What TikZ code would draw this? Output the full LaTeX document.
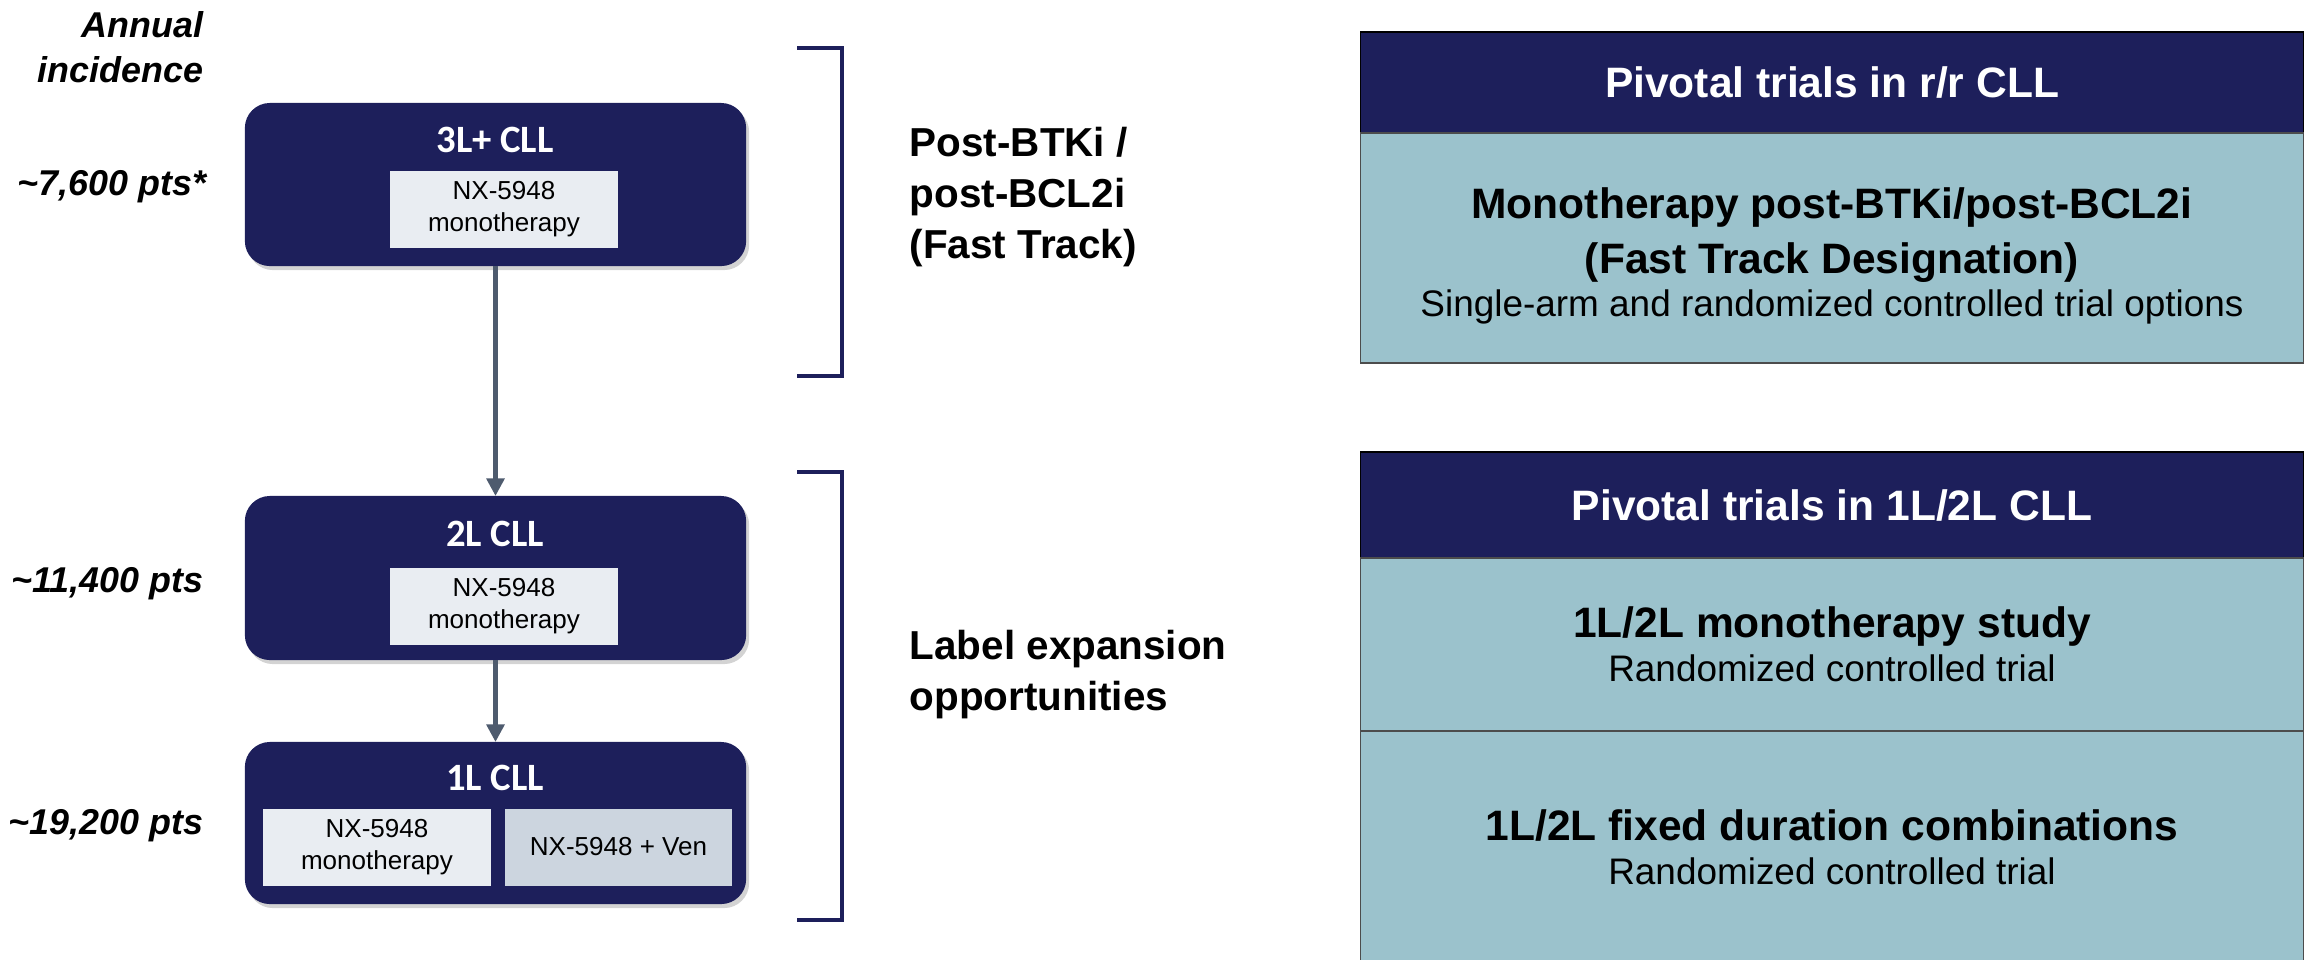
\documentclass[tikz,border=0pt]{standalone}
\usepackage{fontspec}
\setmainfont{Liberation Sans}
\newfontfamily\calibri{Carlito}
\usetikzlibrary{positioning}
\usetikzlibrary{arrows.meta}
\usetikzlibrary{shadows}

\definecolor{navy}{HTML}{1D1F5B}
\definecolor{trialblue}{HTML}{9BC2CC}
\definecolor{armlight}{HTML}{E9EDF2}
\definecolor{armgrey}{HTML}{CCD5DF}
\definecolor{flowgrey}{HTML}{4E5B6E}

\newcommand{\incfont}{\fontsize{10.2}{12.8}\selectfont\bfseries\itshape}
\newcommand{\titlefont}{\fontsize{11}{13}\selectfont\calibri\bfseries}
\newcommand{\armfont}{\fontsize{7.4}{9.1}\selectfont}
\newcommand{\scopefont}{\fontsize{11.5}{14.5}\selectfont\bfseries}
\newcommand{\trialfont}{\fontsize{12.1}{15.6}\selectfont\bfseries}
\newcommand{\subfont}{\fontsize{10.5}{12.8}\selectfont\mdseries}

\begin{document}
\begin{tikzpicture}[x=0.01cm, y=-0.01cm,
    linebox/.style = {fill=navy, rounded corners=0.25cm, minimum width=5.01cm,
      inner sep=0pt, outer sep=0pt,
      drop shadow={shadow xshift=0.03cm, shadow yshift=-0.04cm, opacity=0.35}},
    linetitle/.style = {text=white, font=\titlefont, inner sep=0pt},
    armbox/.style = {minimum width=2.27cm, minimum height=0.77cm, inner sep=0pt,
      align=center, font=\armfont},
    incidence/.style = {font=\incfont, inner sep=0pt},
    flow/.style = {draw=flowgrey, line width=1.2pt,
      -{Triangle[width=5pt, length=5pt]}},
    bracket/.style = {draw=navy, line width=0.9pt},
    scope/.style = {font=\scopefont, align=left, anchor=west, inner sep=0pt},
    header/.style = {fill=navy, draw=black, line width=0.4pt, text=white,
      font=\trialfont, minimum width=9.42cm, inner sep=0pt, outer sep=0pt},
    trial/.style = {fill=trialblue, draw=black!70, line width=0.4pt,
      font=\trialfont, align=center, minimum width=9.42cm, inner sep=0pt,
      outer sep=0pt}
  ]
  \useasboundingbox (0,0) rectangle (2311,959);

  % annual incidence per line of therapy
  \node[incidence, align=right, anchor=east] (annual) at (204,47) {Annual\\incidence};
  \node[incidence, anchor=east] (pts third) at (207,187) {\textasciitilde7,600 pts*};
  \node[incidence, anchor=east] (pts second) at (204,584) {\textasciitilde11,400 pts};
  \node[incidence, anchor=east] (pts first) at (204,826) {\textasciitilde19,200 pts};

  % lines of therapy
  \node[linebox, minimum height=1.63cm] (third) at (495.5,184.5) {};
  \node[linetitle] (third title) at (495,140) {3L+ CLL};
  \node[armbox, fill=armlight] (third mono) at (504,209.5) {NX-5948\\monotherapy};

  \node[linebox, minimum height=1.64cm] (second) at (495.5,578) {};
  \node[linetitle] (second title) at (495,534) {2L CLL};
  \node[armbox, fill=armlight] (second mono) at (504,606) {NX-5948\\monotherapy};

  \node[linebox, minimum height=1.62cm] (first) at (495.5,823) {};
  \node[linetitle] (first title) at (495,778) {1L CLL};
  \node[armbox, fill=armlight] (first mono) at (377,847) {NX-5948\\monotherapy};
  \node[armbox, fill=armgrey] (first combo) at (618.5,847) {NX-5948 + Ven};

  \draw[flow] (third) -- (second);
  \draw[flow] (second) -- (first);

  % brackets
  \draw[bracket] (797,48) -- (842,48) -- (842,376) -- (797,376);
  \draw[bracket] (797,472) -- (842,472) -- (842,920) -- (797,920);
  \node[scope] (fast track) at (909,197) {Post-BTKi /\\post-BCL2i\\(Fast Track)};
  \node[scope] (expansion) at (909,675) {Label expansion\\opportunities};

  % pivotal trials
  \node[header, minimum height=1.01cm] (rr head) at (1832,82.5) {Pivotal trials in r/r CLL};
  \node[trial, minimum height=2.30cm, below=0pt of rr head] (rr mono)
    {\rule{0pt}{13pt}Monotherapy post-BTKi/post-BCL2i\\(Fast Track Designation)\\[-3.4pt]
     {\subfont Single-arm and randomized controlled trial options}};

  \node[header, minimum height=1.06cm] (front head) at (1832,505) {Pivotal trials in 1L/2L CLL};
  \node[trial, minimum height=1.73cm, below=0pt of front head] (front mono)
    {1L/2L monotherapy study\\[-3pt]{\subfont Randomized controlled trial}};
  \node[trial, minimum height=2.32cm, below=0pt of front mono] (front combo)
    {1L/2L fixed duration combinations\\[-3pt]{\subfont Randomized controlled trial}};
\end{tikzpicture}
\end{document}
